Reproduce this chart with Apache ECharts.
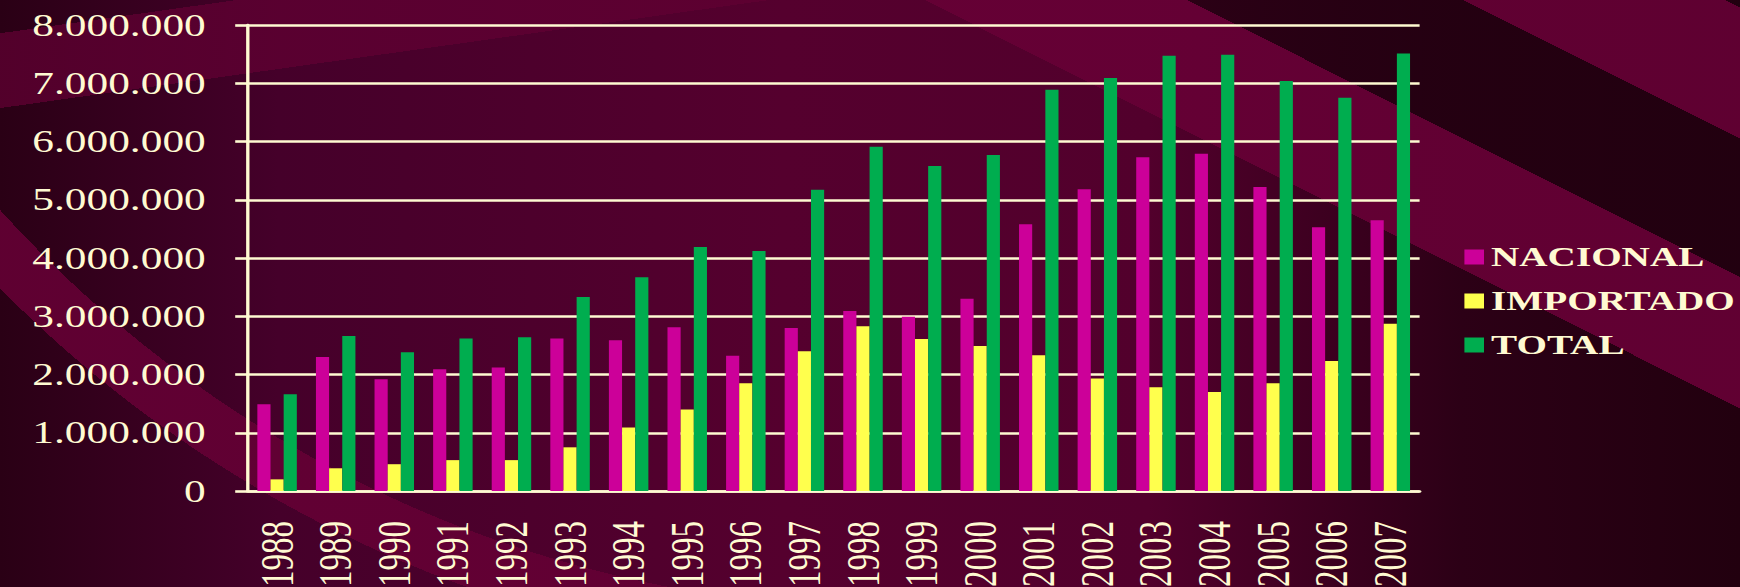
<!DOCTYPE html>
<html>

	<head>
		<meta charset="utf-8" />
		<title>Nacional / Importado / Total</title>
		<style type="text/css">
			html,body{
				width: 1740px;
				height: 587px;
				margin: 0;
				overflow: hidden;
			}
			body{
				position: relative;
				background:
					linear-gradient(26.6deg, transparent 0 72%, rgba(102,0,53,.92) 72% 81%, rgba(34,0,16,.8) 81% 90.5%, rgba(100,0,52,.92) 90.5% 99.5%, rgba(34,0,16,.8) 99.5%),
					linear-gradient(172deg, transparent 0 4%, rgba(96,0,50,.75) 4% 13%, transparent 13%),
					linear-gradient(to right, #2a0015 0%, #45002a 16%, #55002e 45%, #52002c 66%, #2c0016 84%, #22000f 100%);
			}
			#arc{
				position: absolute;
				left: 0;
				top: 0;
				width: 760px;
				height: 587px;
				background: radial-gradient(circle at 899px -603px, transparent 0 1212px, rgba(100,0,52,.9) 1212px 1266px, transparent 1266px);
			}
			#main{
				position: absolute;
				left: 0;
				top: 0;
				width: 1243px;
				height: 587px;
				transform: scaleX(1.4);
				transform-origin: 0 0;
			}
		</style>
	</head>

	<body>
		<div id="arc"></div>
		<div id="main"></div>
		<script src="https://cdn.jsdelivr.net/npm/echarts@6/dist/echarts.min.js"></script>
		<script>
			var years = ['1988', '1989', '1990', '1991', '1992', '1993', '1994', '1995', '1996', '1997',
				'1998', '1999', '2000', '2001', '2002', '2003', '2004', '2005', '2006', '2007'];
			var nacional = [1490000, 2300000, 1920000, 2090000, 2120000, 2620000, 2590000, 2810000, 2320000, 2800000,
				3090000, 2990000, 3300000, 4580000, 5180000, 5730000, 5790000, 5220000, 4530000, 4650000];
			var importado = [200000, 390000, 460000, 530000, 530000, 750000, 1090000, 1400000, 1850000, 2400000,
				2830000, 2610000, 2490000, 2330000, 1930000, 1780000, 1700000, 1850000, 2230000, 2870000];
			var total = [1660000, 2660000, 2380000, 2620000, 2640000, 3330000, 3670000, 4190000, 4120000, 5170000,
				5910000, 5580000, 5770000, 6890000, 7090000, 7470000, 7490000, 7040000, 6750000, 7510000];

			var cream = '#fffad2';
			var serif = '"Liberation Serif", "Times New Roman", serif';

			// drawn narrow then stretched by the css transform, like the original slide
			var myChart = echarts.init(document.getElementById('main'), null, { renderer: 'svg' });

			function miles(v) {
				return String(v).replace(/\B(?=(\d{3})+(?!\d))/g, '.');
			}

			var option = {
				backgroundColor: 'transparent',
				animation: false,
				grid: {
					left: 177,
					right: 229,
					top: 25,
					bottom: 96,
					outerBoundsMode: 'none'
				},
				legend: {
					orient: 'vertical',
					left: 1046,
					top: 243,
					padding: 0,
					itemWidth: 14,
					itemHeight: 15,
					itemGap: 16,
					icon: 'rect',
					textStyle: {
						color: cream,
						fontFamily: serif,
						fontWeight: 'bold',
						fontSize: 28,
						lineHeight: 28
					},
					data: ['NACIONAL', 'IMPORTADO', 'TOTAL']
				},
				xAxis: {
					type: 'category',
					data: years,
					axisLine: {
						lineStyle: { color: cream, width: 2.6 }
					},
					axisTick: {
						length: 10,
						lineStyle: { color: cream, width: 2.2 }
					},
					axisLabel: {
						interval: 0,
						rotate: 90,
						margin: 30,
						color: cream,
						fontFamily: serif,
						fontSize: 33
					}
				},
				yAxis: {
					type: 'value',
					min: 0,
					max: 8000000,
					interval: 1000000,
					axisLine: {
						show: true,
						lineStyle: { color: cream, width: 2.4 }
					},
					axisTick: {
						show: true,
						length: 9,
						lineStyle: { color: cream, width: 2.6 }
					},
					splitLine: {
						lineStyle: { color: cream, width: 2.6 }
					},
					axisLabel: {
						margin: 30,
						color: cream,
						fontFamily: serif,
						fontSize: 31,
						formatter: miles
					}
				},
				series: [{
					name: 'NACIONAL',
					type: 'bar',
					barWidth: 9.4,
					barGap: '0%',
					itemStyle: { color: '#cc0099' },
					data: nacional
				}, {
					name: 'IMPORTADO',
					type: 'bar',
					barWidth: 9.4,
					barGap: '0%',
					itemStyle: { color: '#ffff4d' },
					data: importado
				}, {
					name: 'TOTAL',
					type: 'bar',
					barWidth: 9.4,
					barGap: '0%',
					itemStyle: { color: '#00ad4f' },
					data: total
				}]
			};
			myChart.setOption(option);
		</script>
	</body>

</html>
